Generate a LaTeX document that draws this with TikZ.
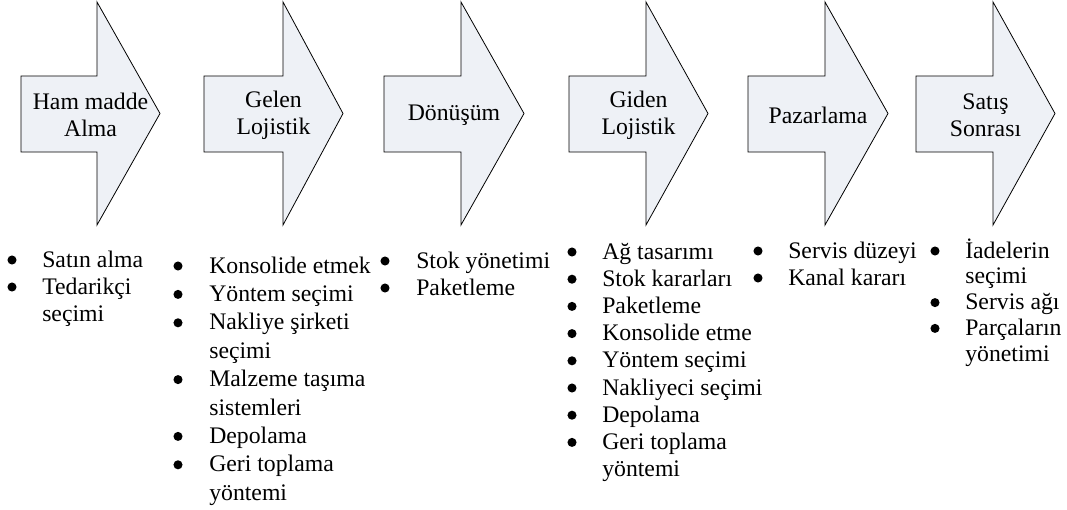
\documentclass[tikz,border=0pt]{standalone}
\usepackage{fontspec}
\setmainfont{Liberation Serif}
\begin{document}
\begin{tikzpicture}[x=0.75pt,y=-0.75pt,
  arrowbody/.style={draw=black,line width=0.6pt,line join=miter,fill={rgb,255:red,238;green,241;blue,246}},
  arrowlabel/.style={align=center,inner sep=0pt,font=\fontsize{17.8}{20.25}\selectfont},
  listtxt/.style={anchor=base west,inner sep=0pt,font=\fontsize{17.8}{20.25}\selectfont},
  bul/.style={circle,fill=black,inner sep=0pt,minimum size=6.8pt}]
\useasboundingbox (0,0) rectangle (1067,510);
% arrows: left, neck, tip
\foreach \L/\N/\T/\nm in {21/97/160/a1,204/283/343/a2,384/461/524/a3,569/646/708/a4,748/825/888/a5,916/993/1055/a6}{
  \draw[arrowbody] (\L,76) -- (\N,76) -- (\N,2) -- (\T,113.5) -- (\N,225) -- (\N,152) -- (\L,152) -- cycle;
  \coordinate (\nm) at ({(\L+\T)/2},115);
}
\node[arrowlabel] (t1) at (a1) {Ham madde\\Alma};
\node[arrowlabel] (t2) at (a2) {Gelen\\Lojistik};
\node[arrowlabel] (t3) at (a3) {Dönüşüm};
\node[arrowlabel] (t4) at (a4) {Giden\\Lojistik};
\node[arrowlabel] (t5) at (a5) {Pazarlama};
\node[arrowlabel] (t6) at (a6) {Satış\\Sonrası};
% list 1
\foreach \t/\b [count=\i from 0] in {Satın alma/1,Tedarikçi/1,seçimi/0}{
  \node[listtxt] (la-\i) at (42,{267+\i*27}) {\t};
  \ifnum\b=1 \node[bul] (ba-\i) at (12,{267+\i*27-7}) {};\fi
}
% list 2
\foreach \t/\b [count=\i from 0] in {Konsolide etmek/1,Yöntem seçimi/1,Nakliye şirketi/1,seçimi/0,Malzeme taşıma/1,sistemleri/0,Depolama/1,Geri toplama/1,yöntemi/0}{
  \node[listtxt] (lb-\i) at (209,{273+\i*28.4}) {\t};
  \ifnum\b=1 \node[bul] (bb-\i) at (178,{273+\i*28.4-7}) {};\fi
}
% list 3
\foreach \t/\b [count=\i from 0] in {Stok yönetimi/1,Paketleme/1}{
  \node[listtxt] (lc-\i) at (416,{268+\i*27}) {\t};
  \ifnum\b=1 \node[bul] (bc-\i) at (385,{268+\i*27-7}) {};\fi
}
% list 4
\foreach \t/\b [count=\i from 0] in {Ağ tasarımı/1,Stok kararları/1,Paketleme/1,Konsolide etme/1,Yöntem seçimi/1,Nakliyeci seçimi/1,Depolama/1,Geri toplama/1,yöntemi/0}{
  \node[listtxt] (ld-\i) at (602,{259+\i*27.2}) {\t};
  \ifnum\b=1 \node[bul] (bd-\i) at (572,{259+\i*27.2-7}) {};\fi
}
% list 5
\foreach \t/\b [count=\i from 0] in {Servis düzeyi/1,Kanal kararı/1}{
  \node[listtxt] (le-\i) at (788,{258+\i*27}) {\t};
  \ifnum\b=1 \node[bul] (be-\i) at (758,{258+\i*27-7}) {};\fi
}
% list 6
\foreach \t/\b [count=\i from 0] in {İadelerin/1,seçimi/0,Servis ağı/1,Parçaların/1,yönetimi/0}{
  \node[listtxt] (lf-\i) at (965,{258+\i*25.8}) {\t};
  \ifnum\b=1 \node[bul] (bf-\i) at (935,{258+\i*25.8-7}) {};\fi
}
\end{tikzpicture}
\end{document}
